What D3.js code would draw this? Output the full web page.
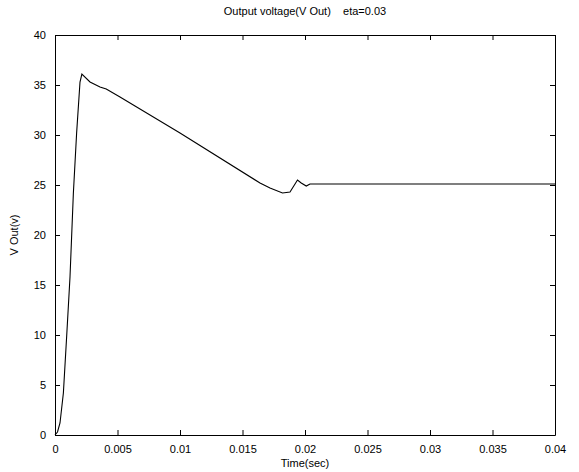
<!DOCTYPE html>
<html>
<head>
<meta charset="utf-8">
<script src="https://cdn.jsdelivr.net/npm/d3@7"></script>
<style>
html,body{margin:0;padding:0;background:#fff;}
text{font-family:"Liberation Sans",Arial,sans-serif;}
</style>
</head>
<body>
<svg id="chart" width="579" height="472"></svg>
<script>
const timeSec = [0, 0.0002, 0.0004, 0.00067, 0.00093, 0.0012, 0.00147, 0.00173, 0.002, 0.00215, 0.0028, 0.0036, 0.0041, 0.0052, 0.0064, 0.010, 0.0164, 0.0172, 0.0182, 0.0188, 0.0194, 0.0197, 0.0201, 0.0204, 0.022, 0.03, 0.04];
const vOut =    [0, 0.3, 1.2, 4.2, 9.8, 15.8, 24.2, 30.2, 35.3, 36.1, 35.3, 34.8, 34.6, 33.8, 32.9, 30.2, 25.2, 24.7, 24.2, 24.3, 25.5, 25.2, 24.9, 25.1, 25.1, 25.1, 25.1];
const xTicks = [0, 0.005, 0.01, 0.015, 0.02, 0.025, 0.03, 0.035, 0.04];
const xTickLabels = ["0", "0.005", "0.01", "0.015", "0.02", "0.025", "0.03", "0.035", "0.04"];
const yTicks = [0, 5, 10, 15, 20, 25, 30, 35, 40];
const titleText = "Output voltage(V Out)    eta=0.03";
const xLabel = "Time(sec)";
const yLabel = "V Out(v)";

const svg = d3.select("#chart");
const L = 55, R = 555, T = 35, B = 435;
const x = d3.scaleLinear().domain([0, 0.04]).range([L, R]);
const y = d3.scaleLinear().domain([0, 40]).range([B, T]);

const fmtX = (d) => xTickLabels[xTicks.indexOf(d)];

svg.append("g").attr("transform", `translate(0,${B})`)
  .call(d3.axisBottom(x).tickValues(xTicks).tickFormat(fmtX).tickSizeInner(-5).tickSizeOuter(0).tickPadding(10));
svg.append("g").attr("transform", `translate(0,${T})`)
  .call(d3.axisTop(x).tickValues(xTicks).tickFormat("").tickSizeInner(-5).tickSizeOuter(0));
svg.append("g").attr("transform", `translate(${L},0)`)
  .call(d3.axisLeft(y).tickValues(yTicks).tickSizeInner(-5).tickSizeOuter(0).tickPadding(9));
svg.append("g").attr("transform", `translate(${R},0)`)
  .call(d3.axisRight(y).tickValues(yTicks).tickFormat("").tickSizeInner(-5).tickSizeOuter(0));

svg.selectAll(".tick text").attr("font-size", 11).attr("fill", "#000");
svg.selectAll(".domain, .tick line").attr("stroke", "#000");

const line = d3.line().x((d, i) => x(timeSec[i])).y(d => y(d));
svg.append("path").datum(vOut).attr("d", line)
  .attr("fill", "none").attr("stroke", "#000").attr("stroke-width", 1.1);

svg.append("text").attr("x", 305).attr("y", 15).attr("text-anchor", "middle")
  .attr("font-size", 11).text(titleText).style("white-space", "pre");
svg.append("text").attr("x", 305).attr("y", 467).attr("text-anchor", "middle")
  .attr("font-size", 11).text(xLabel);
svg.append("text").attr("transform", `translate(18,${(T + B) / 2}) rotate(-90)`)
  .attr("text-anchor", "middle").attr("font-size", 11).text(yLabel);
</script>
</body>
</html>
